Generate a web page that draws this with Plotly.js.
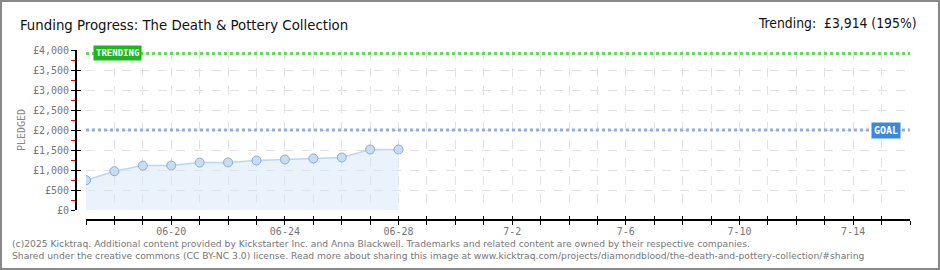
<!DOCTYPE html>
<html><head><meta charset="utf-8">
<script src="https://cdn.plot.ly/plotly-3.0.1.min.js"></script>
<style>
html,body{margin:0;padding:0;background:#fff;}
#wrap{position:relative;width:940px;height:270px;}
#chart{position:absolute;left:0;top:0;width:940px;height:270px;}
#frame{position:absolute;left:0;top:0;width:936px;height:266px;border:2px solid #888;pointer-events:none;}
</style></head>
<body>
<div id="wrap"><div id="chart"></div><div id="frame"></div></div>
<script>
// ---- data ----
const dates = ['2025-06-17','2025-06-18','2025-06-19','2025-06-20','2025-06-21','2025-06-22',
               '2025-06-23','2025-06-24','2025-06-25','2025-06-26','2025-06-27','2025-06-28'];
const pledged = [745, 970, 1110, 1112, 1185, 1190, 1238, 1262, 1288, 1312, 1512, 1512];
const rangeDates = ['2025-06-17','2025-07-16'];
const trendingValue = [3914, 3914];
const goalValue = [2000, 2000];
const tickDates = ['2025-06-17','2025-06-18','2025-06-19','2025-06-20','2025-06-21','2025-06-22','2025-06-23',
  '2025-06-24','2025-06-25','2025-06-26','2025-06-27','2025-06-28','2025-06-29','2025-06-30','2025-07-01',
  '2025-07-02','2025-07-03','2025-07-04','2025-07-05','2025-07-06','2025-07-07','2025-07-08','2025-07-09',
  '2025-07-10','2025-07-11','2025-07-12','2025-07-13','2025-07-14','2025-07-15','2025-07-16'];
const tickText = ['','','','06-20','','','','06-24','','','','06-28','','','','7-2','','','','7-6','','','',
  '7-10','','','','7-14','',''];
const yTickVals = [0,500,1000,1500,2000,2500,3000,3500,4000];
const yTickText = ['£0','£500','£1,000','£1,500','£2,000','£2,500','£3,000','£3,500','£4,000'];
const titleText = 'Funding Progress: The Death &amp; Pottery Collection';
const trendingText = 'Trending:  £3,914 (195%)';
const footer1 = '(c)2025 Kicktraq. Additional content provided by Kickstarter Inc. and Anna Blackwell. Trademarks and related content are owned by their respective companies.';
const footer2 = 'Shared under the creative commons (CC BY-NC 3.0) license. Read more about sharing this image at www.kicktraq.com/projects/diamondblood/the-death-and-pottery-collection/#sharing';

// ---- geometry helpers ----
const W = 940, H = 270, ML = 76, MR = 30, MT = 50, MB = 50;
const PW = W - ML - MR, PH = H - MT - MB;
const px = v => (v - ML) / PW;
const py = v => (H - MB - v) / PH;

const mono = 'DejaVu Sans Mono, monospace';
const cond = 'DejaVu Sans Condensed, sans-serif';
const traces = [
  {x: rangeDates, y: goalValue, mode: 'lines', line: {color: '#8cb2dc', width: 3, dash: 'dot'}, hoverinfo: 'skip'},
  {x: rangeDates, y: trendingValue, mode: 'lines', line: {color: '#66d95a', width: 3, dash: 'dot'}, hoverinfo: 'skip'},
  {x: dates, y: pledged, mode: 'lines+markers', fill: 'tozeroy', fillcolor: 'rgba(214,230,248,0.5)',
   line: {color: '#bcd6f2', width: 1.5},
   marker: {size: 9, color: '#c6ddf6', line: {color: '#8ea9cc', width: 1}}},
  {x: rangeDates, y: [0, 0], xaxis: 'x2', yaxis: 'y2', mode: 'lines', line: {width: 0}, hoverinfo: 'skip'}
];

const layout = {
  width: W, height: H, showlegend: false,
  margin: {l: ML, r: MR, t: MT, b: MB, pad: 0},
  paper_bgcolor: '#fff', plot_bgcolor: 'rgba(0,0,0,0)',
  title: {text: titleText, xref: 'container', yref: 'container', x: 20 / W, xanchor: 'left',
          y: 1 - 25 / H, yanchor: 'middle',
          font: {family: cond, size: 14.8, color: '#111'}},
  xaxis: {type: 'date', range: rangeDates, domain: [10 / PW, 1], anchor: 'free', position: 0,
          tickvals: tickDates, ticktext: tickText, ticks: 'outside', ticklen: 4, tickcolor: '#000',
          ticklabelstandoff: -2,
          showline: true, linecolor: '#000', linewidth: 2,
          showgrid: true, gridcolor: '#e2e2e2', griddash: 'dash', gridwidth: 1, zeroline: false,
          tickfont: {family: mono, size: 10, color: '#777'}},
  yaxis: {range: [0, 4000], domain: [10 / PH, 1], anchor: 'free', position: 0,
          tickvals: yTickVals, ticktext: yTickText, ticks: 'outside', ticklen: 4, tickcolor: '#000',
          minor: {ticks: 'outside', ticklen: 4, tickcolor: '#e00', dtick: 250, tick0: 250, showgrid: false},
          showline: true, linecolor: '#000', linewidth: 2,
          showgrid: true, gridcolor: '#e2e2e2', griddash: 'dash', zeroline: false,
          tickfont: {family: mono, size: 10, color: '#777'}},
  xaxis2: {type: 'date', range: rangeDates, domain: [10 / PW, 1], anchor: 'free', position: 0,
           overlaying: 'x', tickvals: tickDates, ticktext: tickDates.map(() => ''),
           ticks: 'inside', ticklen: 4, tickcolor: '#000', showline: false, showgrid: false, zeroline: false},
  yaxis2: {range: [0, 4000], domain: [10 / PH, 1], anchor: 'free', position: 0, overlaying: 'y',
           tickvals: yTickVals, ticktext: yTickVals.map(() => ''), ticks: 'inside', ticklen: 4,
           tickcolor: '#000', showline: false, showgrid: false, zeroline: false},
  annotations: [
    {text: trendingText, xref: 'paper', yref: 'paper', x: px(919), y: py(23), xanchor: 'right', yanchor: 'middle',
     showarrow: false, font: {family: cond, size: 13.8, color: '#111'}},
    {text: 'PLEDGED', xref: 'paper', yref: 'paper', x: px(21), y: py(130), xanchor: 'center', yanchor: 'middle',
     textangle: -90, showarrow: false, font: {family: mono, size: 10, color: '#888'}},
    {text: 'TRENDING', xref: 'paper', yref: 'paper', x: px(93), y: py(53), xanchor: 'left', yanchor: 'middle',
     showarrow: false, bgcolor: '#1db71d', borderpad: 2,
     font: {family: mono, size: 9, color: '#fff', weight: 'bold'}},
    {text: 'GOAL', xref: 'paper', yref: 'paper', x: px(871), y: py(130), xanchor: 'left', yanchor: 'middle',
     showarrow: false, bgcolor: '#3a88d8', borderpad: 2,
     font: {family: mono, size: 10, color: '#fff', weight: 'bold'}},
    {text: footer1, xref: 'paper', yref: 'paper', x: px(10), y: py(243), xanchor: 'left', yanchor: 'middle',
     showarrow: false, font: {family: 'DejaVu Sans, sans-serif', size: 9.2, color: '#777'}},
    {text: footer2, xref: 'paper', yref: 'paper', x: px(10), y: py(255), xanchor: 'left', yanchor: 'middle',
     showarrow: false, font: {family: 'DejaVu Sans, sans-serif', size: 9.2, color: '#777'}}
  ]
};

Plotly.newPlot('chart', traces, layout, {staticPlot: true, displayModeBar: false});
</script>
</body></html>
